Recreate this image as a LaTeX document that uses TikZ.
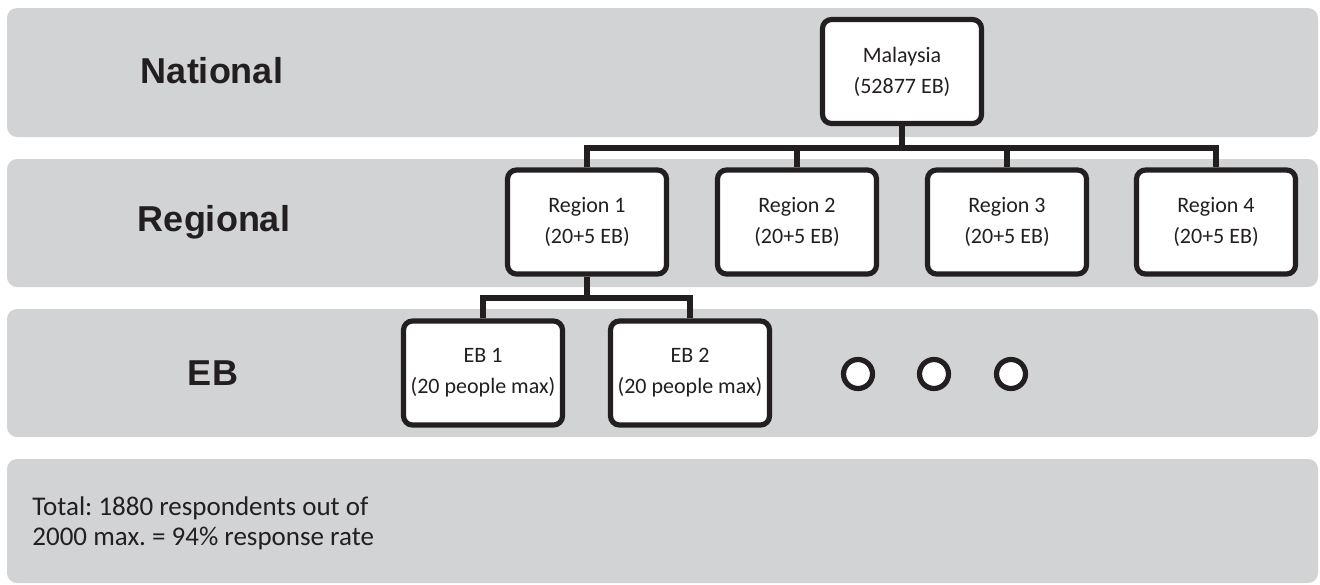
\documentclass[tikz,border=0pt]{standalone}
\usepackage{fontspec}
\setmainfont{Carlito}
\newfontfamily\headfont{Liberation Sans}
\usetikzlibrary{positioning}
\definecolor{bandgray}{HTML}{D1D3D4}
\definecolor{inkblack}{HTML}{231F20}

\begin{document}
\begin{tikzpicture}[x=0.5pt,y=-0.5pt,
	band/.style={fill=bandgray, rounded corners=5pt},
	unit/.style={draw=inkblack, line width=2.6pt, fill=white, rounded corners=4.5pt,
		minimum width=79.5pt, minimum height=52pt, inner sep=0pt, align=center,
		text=inkblack, font=\fontsize{11}{15.5}\selectfont\frenchspacing},
	level/.style={text=inkblack, font=\headfont\bfseries\fontsize{18}{20}\selectfont},
	link/.style={draw=inkblack, line width=2.8pt},
	dot/.style={circle, draw=inkblack, line width=2.6pt, fill=white, minimum size=14.5pt, inner sep=0pt}]

	\useasboundingbox (0,0) rectangle (1320,584);

	% background bands
	\fill[band] (7,8) rectangle (1318,137);
	\fill[band] (7,159) rectangle (1318,287);
	\fill[band] (7,309) rectangle (1318,437);
	\fill[band] (7,459) rectangle (1318,583);

	\node[level] (lnat) at (212,71) {National};
	\node[level] (lreg) at (214,222) {Regional};
	\node[level] (leb) at (213,373) {EB};

	\node[unit] (nat) at (902,71.5) {Malaysia\\(52877 EB)};

	\node[unit] (reg1) at (587,222) {Region 1\\(20+5 EB)};
	\node[unit] (reg2) at (797,222) {Region 2\\(20+5 EB)};
	\node[unit] (reg3) at (1007,222) {Region 3\\(20+5 EB)};
	\node[unit] (reg4) at (1216,222) {Region 4\\(20+5 EB)};

	\node[unit] (eb1) at (483,373) {EB 1\\(20 people max)};
	\node[unit] (eb2) at (690,373) {EB 2\\(20 people max)};

	\node[dot] (dot1) at (858,374) {};
	\node[dot] (dot2) at (934,374) {};
	\node[dot] (dot3) at (1011,374) {};

	\coordinate (natbus) at (902,148);
	\coordinate (regbus) at (587,298);

	% tree links
	\draw[link] (nat.south) -- (natbus);
	\draw[link] (reg1.north) |- (natbus) -| (reg4.north);
	\draw[link] (reg2.north) -- (reg2.north |- natbus);
	\draw[link] (reg3.north) -- (reg3.north |- natbus);
	\draw[link] (reg1.south) -- (regbus);
	\draw[link] (eb1.north) |- (regbus) -| (eb2.north);

	\node[anchor=west, align=left, inner sep=0pt, text=inkblack,
		font=\fontsize{13.5}{15}\selectfont\frenchspacing] (total) at (32,523)
		{Total: 1880 respondents out of\\2000 max. = 94\% response rate};
\end{tikzpicture}
\end{document}
